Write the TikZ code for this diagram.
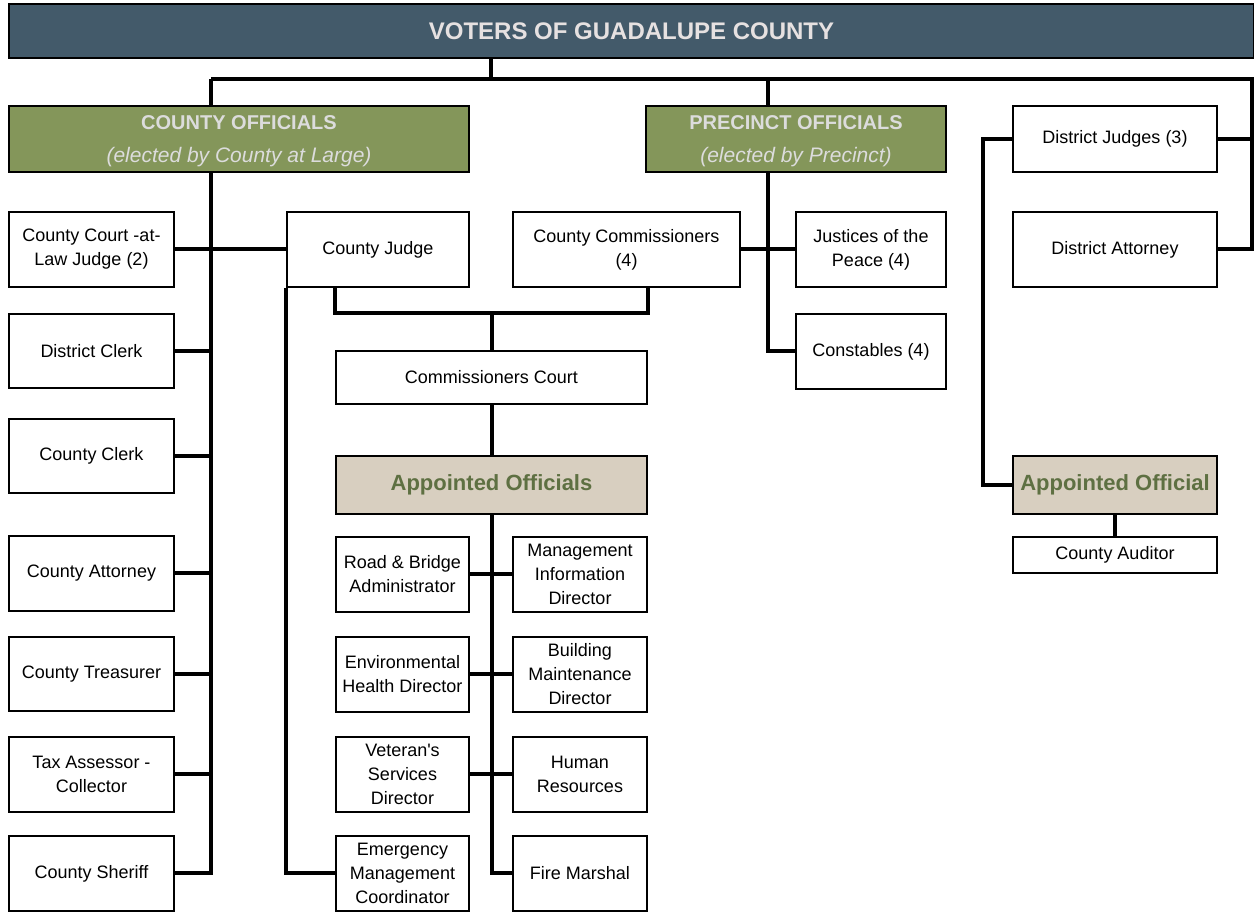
\documentclass[tikz,border=0pt]{standalone}
\usepackage{fontspec}
\setmainfont{Liberation Sans}
\newfontfamily\plainsans{Liberation Sans}
\usepackage{tikz}
\usetikzlibrary{positioning}
\usepackage{xcolor}
\definecolor{bannerblue}{HTML}{435A6A}
\definecolor{bannertext}{HTML}{E6E1E1}
\definecolor{electgreen}{HTML}{84965A}
\definecolor{electtext}{HTML}{DCDCDC}
\definecolor{apptbeige}{HTML}{D8CFC0}
\definecolor{appttext}{HTML}{5E7042}

\begin{document}
\begin{tikzpicture}[x=0.5pt, y=-0.5pt,
  wh/.style 2 args={minimum width=#1*0.5pt, minimum height=#2*0.5pt},
  office/.style={draw=black, line width=1pt, fill=white, inner sep=0pt, align=center,
    font=\fontsize{9}{12}\selectfont},
  elected/.style={office, fill=electgreen, text=electtext,
    font=\fontsize{10}{16.5}\selectfont\bfseries},
  appointed/.style={office, fill=apptbeige, text=appttext,
    font=\fontsize{11}{13}\selectfont\bfseries},
  link/.style={line width=2pt}]

\useasboundingbox (0,0) rectangle (1254,913);

% banner and group heads
{
\node[office, wh={1245}{54}, fill=bannerblue, text=bannertext,
  font=\fontsize{12}{14}\selectfont\bfseries] (banner) at (631.5,31) {VOTERS OF GUADALUPE COUNTY};

\node[elected, wh={460}{66}] (coff) at (239,139)
  {\rule{0pt}{9pt}COUNTY OFFICIALS\\{\mdseries\itshape\fontsize{10.5}{16.5}\selectfont (elected by County at Large)}};
\node[elected, wh={300}{66}] (poff) at (796,139)
  {\rule{0pt}{9pt}PRECINCT OFFICIALS\\{\mdseries\itshape\fontsize{10.5}{16.5}\selectfont (elected by Precinct)}};
}

% county officials column
{
\node[office, wh={165}{75}] (ccl) at (91.5,249.5) {County Court -at-\\Law Judge (2)};
\node[office, wh={165}{74}] (dclerk) at (91.5,351) {District Clerk};
\node[office, wh={165}{74}] (cclerk) at (91.5,456) {County Clerk};
\node[office, wh={165}{75}] (catt) at (91.5,573.5) {County Attorney};
\node[office, wh={165}{74}] (ctreas) at (91.5,674) {County Treasurer};
\node[office, wh={165}{75}] (tax) at (91.5,774.5) {Tax Assessor -\\Collector};
\node[office, wh={165}{75}] (sheriff) at (91.5,873.5) {County Sheriff};
}

% middle row
{
\node[office, wh={182}{75}] (cj) at (378,249.5) {County Judge};
\node[office, wh={227}{75}] (ccomm) at (626.5,249.5) {County Commissioners\\(4)};
\node[office, wh={150}{75}] (jp) at (871,249.5) {Justices of the\\Peace (4)};
\node[office, wh={150}{75}] (con) at (871,351.5) {Constables (4)};
\node[office, wh={311}{53}] (ccourt) at (491.5,377.5) {Commissioners Court};
\node[appointed, wh={311}{58}] (appt) at (491.5,485) {Appointed Officials};
}

% appointed officials
{
\node[office, wh={133}{75}] (road) at (402.5,574.5) {Road \& Bridge\\Administrator};
\node[office, wh={134}{75}] (mis) at (580,574.5) {Management\\Information\\Director};
\node[office, wh={133}{75}] (env) at (402.5,674.5) {Environmental\\Health Director};
\node[office, wh={134}{75}] (bldg) at (580,674.5) {Building\\Maintenance\\Director};
\node[office, wh={133}{75}] (vet) at (402.5,774.5) {Veteran{\plainsans '}s\\Services\\Director};
\node[office, wh={134}{75}] (hr) at (580,774.5) {Human\\Resources};
\node[office, wh={133}{75}] (emc) at (402.5,873.5) {Emergency\\Management\\Coordinator};
\node[office, wh={134}{75}] (fire) at (580,873.5) {Fire Marshal};
}

% district side
{
\node[office, wh={204}{66}] (dj) at (1115,139) {District Judges (3)};
\node[office, wh={204}{75}] (da) at (1115,249.5) {District Attorney};
\node[appointed, wh={204}{58}] (appt2) at (1115,485) {Appointed Official};
\node[office, wh={204}{36}] (aud) at (1115,555) {County Auditor};
}

% bus points
\coordinate (bus) at (491,79);
\coordinate (lbus) at (211,79);
\coordinate (pbus) at (768,79);
\coordinate (rbus) at (1252,79);
\coordinate (jleft) at (983,139);
\coordinate (brk) at (491.5,313);

% black lines
{
\draw[link] (bus |- banner.south) -- (bus);
\draw[link] (lbus) -- (rbus) |- (da.east);
\draw[link] (dj.east) -- (dj.east -| rbus);
\draw[link] (lbus) -- (lbus |- coff.north);
\draw[link] (pbus) -- (pbus |- poff.north);

\draw[link] (lbus |- coff.south) |- (sheriff.east);
\foreach \n in {dclerk,cclerk,catt,ctreas,tax}
  \draw[link] (\n.east) -- (\n.east -| lbus);
\draw[link] (ccl.east) -- (cj.west);

\draw[link] (pbus |- poff.south) |- (con.west);
\draw[link] (ccomm.east) -- (jp.west);

\draw[link] (cj.south -| ccourt.west) |- (brk) -| (ccomm.south -| ccourt.east);
\draw[link] (brk) -- (ccourt.north);
\draw[link] (ccourt.south) -- (appt.north);
\draw[link] (appt.south) |- (fire.west);
\draw[link] (road.east) -- (mis.west);
\draw[link] (env.east) -- (bldg.west);
\draw[link] (vet.east) -- (hr.west);
\draw[link] (cj.south west) |- (emc.west);

\draw[link] (dj.west) -- (jleft) |- (appt2.west);
\draw[link] (appt2.south) -- (aud.north);
}
\end{tikzpicture}
\end{document}
